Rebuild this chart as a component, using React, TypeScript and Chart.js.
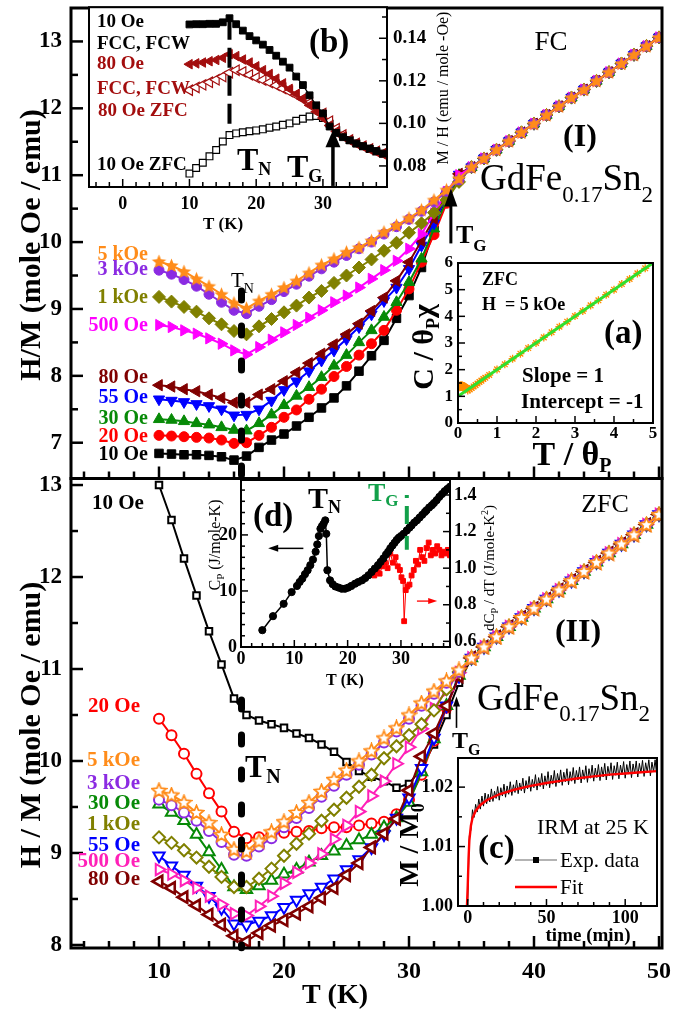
import React, { useEffect, useRef } from "react";
import { Chart, registerables } from "chart.js";

Chart.register(...registerables);

const W = 675;
const H = 1011;
const SERIF = "'Liberation Serif', 'Times New Roman', Times, serif";
const fb = (s: number) => `bold ${s}px ${SERIF}`;
const fn = (s: number) => `${s}px ${SERIF}`;

// ---------------- main panels (H/M vs T) ----------------
const TEMPS = [10, 11, 12, 13, 14, 15, 16, 17, 18, 19, 20, 21, 22, 23, 24, 25, 26, 27, 28, 29, 30, 31, 32, 33, 34, 35, 36, 37, 38, 39, 40, 41, 42, 43, 44, 45, 46, 47, 48, 49, 50];

// FC, T = 10..34
const FC_10 = [6.84, 6.83, 6.82, 6.82, 6.81, 6.79, 6.74, 6.80, 6.93, 7.04, 7.13, 7.25, 7.38, 7.52, 7.67, 7.85, 8.07, 8.30, 8.53, 8.86, 9.20, 9.62, 10.18, 10.66, 10.98];
const FC_20 = [7.11, 7.10, 7.09, 7.08, 7.07, 7.04, 6.99, 7.00, 7.11, 7.23, 7.38, 7.49, 7.65, 7.80, 7.99, 8.14, 8.31, 8.48, 8.68, 8.98, 9.30, 9.70, 10.11, 10.58, 10.99];
const FC_30 = [7.35, 7.34, 7.32, 7.29, 7.27, 7.23, 7.19, 7.18, 7.29, 7.42, 7.56, 7.70, 7.83, 7.98, 8.15, 8.31, 8.50, 8.68, 8.88, 9.10, 9.40, 9.75, 10.20, 10.62, 11.00];
const FC_55 = [7.65, 7.63, 7.61, 7.58, 7.55, 7.50, 7.41, 7.42, 7.50, 7.63, 7.79, 7.92, 8.07, 8.23, 8.38, 8.55, 8.73, 8.92, 9.12, 9.32, 9.60, 9.95, 10.28, 10.70, 11.01];
const FC_80 = [7.86, 7.84, 7.80, 7.77, 7.72, 7.67, 7.60, 7.60, 7.72, 7.80, 7.92, 8.05, 8.19, 8.33, 8.47, 8.62, 8.78, 8.97, 9.17, 9.42, 9.70, 10.02, 10.35, 10.72, 11.02];
const FC_500 = [8.76, 8.73, 8.68, 8.63, 8.56, 8.48, 8.38, 8.32, 8.43, 8.54, 8.65, 8.76, 8.87, 8.98, 9.10, 9.20, 9.32, 9.45, 9.58, 9.72, 9.90, 10.12, 10.43, 10.75, 11.00];
const FC_1K = [9.18, 9.11, 9.03, 8.96, 8.86, 8.77, 8.67, 8.62, 8.74, 8.85, 8.95, 9.05, 9.17, 9.27, 9.39, 9.50, 9.62, 9.74, 9.87, 9.99, 10.14, 10.28, 10.44, 10.63, 10.90];
const FC_3K = [9.58, 9.52, 9.44, 9.34, 9.22, 9.10, 8.98, 8.93, 9.04, 9.14, 9.26, 9.37, 9.49, 9.60, 9.70, 9.80, 9.90, 10.00, 10.12, 10.23, 10.34, 10.46, 10.60, 10.76, 10.93];
const FC_5K = [9.71, 9.65, 9.56, 9.45, 9.34, 9.22, 9.09, 9.01, 9.12, 9.22, 9.32, 9.42, 9.54, 9.66, 9.75, 9.85, 9.92, 10.02, 10.15, 10.25, 10.36, 10.48, 10.63, 10.78, 10.95];
// FC, T = 35..50 (all fields overlap)
const FC_HIGH = [11.12, 11.25, 11.38, 11.51, 11.64, 11.77, 11.90, 12.03, 12.16, 12.28, 12.41, 12.54, 12.67, 12.80, 12.93, 13.06];

// ZFC, T = 10..34
const Z_10 = [13.0, 12.62, 12.20, 11.80, 11.41, 11.05, 10.68, 10.50, 10.44, 10.40, 10.36, 10.30, 10.25, 10.18, 10.10, 9.99, 9.89, 9.83, 9.78, 9.71, 9.75, 9.92, 10.18, 10.50, 10.85];
const Z_20 = [10.46, 10.28, 10.08, 9.86, 9.65, 9.45, 9.23, 9.16, 9.17, 9.21, 9.22, 9.23, 9.24, 9.27, 9.28, 9.28, 9.30, 9.32, 9.34, 9.42, 9.58, 9.85, 10.22, 10.58, 10.92];
const Z_30 = [9.53, 9.44, 9.35, 9.20, 9.01, 8.82, 8.63, 8.60, 8.64, 8.70, 8.77, 8.82, 8.90, 8.97, 9.02, 9.08, 9.14, 9.20, 9.28, 9.38, 9.55, 9.88, 10.24, 10.60, 10.93];
const Z_55 = [8.97, 8.86, 8.76, 8.64, 8.53, 8.40, 8.23, 8.22, 8.26, 8.32, 8.41, 8.49, 8.56, 8.63, 8.72, 8.82, 8.93, 9.06, 9.20, 9.38, 9.60, 9.92, 10.25, 10.60, 10.92];
const Z_80 = [8.69, 8.62, 8.52, 8.43, 8.33, 8.22, 8.10, 8.04, 8.13, 8.21, 8.27, 8.34, 8.42, 8.51, 8.62, 8.76, 8.89, 9.06, 9.21, 9.37, 9.68, 10.05, 10.30, 10.60, 10.92];
const Z_500 = [8.82, 8.77, 8.70, 8.62, 8.53, 8.44, 8.34, 8.32, 8.42, 8.53, 8.67, 8.79, 8.89, 8.99, 9.15, 9.30, 9.45, 9.62, 9.78, 9.97, 10.15, 10.35, 10.57, 10.77, 10.96];
const Z_1K = [9.17, 9.11, 9.03, 8.95, 8.85, 8.74, 8.63, 8.63, 8.72, 8.83, 8.97, 9.10, 9.21, 9.35, 9.47, 9.60, 9.72, 9.85, 10.03, 10.16, 10.28, 10.40, 10.55, 10.78, 10.97];
const Z_3K = [9.58, 9.52, 9.44, 9.35, 9.24, 9.12, 8.98, 8.97, 9.07, 9.16, 9.28, 9.38, 9.49, 9.61, 9.73, 9.85, 9.96, 10.07, 10.20, 10.32, 10.46, 10.60, 10.73, 10.85, 10.97];
const Z_5K = [9.68, 9.63, 9.55, 9.44, 9.33, 9.20, 9.04, 9.02, 9.13, 9.23, 9.34, 9.44, 9.55, 9.67, 9.80, 9.90, 10.00, 10.11, 10.25, 10.36, 10.50, 10.63, 10.76, 10.87, 10.99];
// ZFC, T = 35..50
const Z_HIGH = [11.12, 11.24, 11.35, 11.46, 11.56, 11.66, 11.76, 11.86, 11.96, 12.06, 12.16, 12.26, 12.36, 12.46, 12.57, 12.68];

const X_MAJ = [10, 20, 30, 40, 50];
const X_MIN = [4, 6, 8, 12, 14, 16, 18, 22, 24, 26, 28, 32, 34, 36, 38, 42, 44, 46, 48];
const X_LAB = ["10", "20", "30", "40", "50"];
const TOP_Y_MAJ = [7, 8, 9, 10, 11, 12, 13];
const TOP_Y_MIN = [7.5, 8.5, 9.5, 10.5, 11.5, 12.5];
const TOP_Y_LAB = ["7", "8", "9", "10", "11", "12", "13"];
const BOT_Y_MAJ = [8, 9, 10, 11, 12, 13];
const BOT_Y_MIN = [8.5, 9.5, 10.5, 11.5, 12.5];
const BOT_Y_LAB = ["8", "9", "10", "11", "12", "13"];

const FC_NAMES = ["5 kOe", "3 kOe", "1 kOe", "500 Oe", "80 Oe", "55 Oe", "30 Oe", "20 Oe", "10 Oe"];
const ZFC_NAMES = ["20 Oe", "5 kOe", "3 kOe", "30 Oe", "1 kOe", "55 Oe", "500 Oe", "80 Oe"];

// ---------------- inset (b): M/H vs T ----------------
const TB = [10, 11, 12, 13, 14, 15, 16, 17, 18, 19, 20, 21, 22, 23, 24, 25, 26, 27, 28, 29, 30, 31, 32, 33, 34, 35, 36, 37, 38, 39];
const B_10FC = [0.1465, 0.1466, 0.1466, 0.1468, 0.1468, 0.1475, 0.1494, 0.1466, 0.1436, 0.1410, 0.1390, 0.1370, 0.1345, 0.1318, 0.1290, 0.1262, 0.1220, 0.1180, 0.1132, 0.1085, 0.1047, 0.0985, 0.0955, 0.0935, 0.0920, 0.0905, 0.0893, 0.0882, 0.0870, 0.0858];
const B_80FC = [0.1278, 0.1282, 0.1286, 0.1292, 0.1298, 0.1308, 0.1325, 0.1316, 0.1300, 0.1286, 0.1268, 0.1250, 0.1232, 0.1210, 0.1188, 0.1162, 0.1138, 0.1115, 0.1085, 0.1055, 0.1025, 0.0990, 0.0962, 0.0938, 0.0920, 0.0905, 0.0892, 0.0880, 0.0868, 0.0857];
const B_80ZFC = [0.1156, 0.1169, 0.1181, 0.1193, 0.1205, 0.1220, 0.1238, 0.1250, 0.1242, 0.1228, 0.1215, 0.1204, 0.1192, 0.1179, 0.1164, 0.1150, 0.1133, 0.1115, 0.1096, 0.1075, 0.1047, 0.1010, 0.0975, 0.0945, 0.0922, 0.0906, 0.0892, 0.0880, 0.0868, 0.0857];
const B_10ZFC = [0.0764, 0.0790, 0.0815, 0.0845, 0.0875, 0.0915, 0.0945, 0.0953, 0.0958, 0.0963, 0.0967, 0.0972, 0.0980, 0.0985, 0.0993, 0.1000, 0.1012, 0.1022, 0.1032, 0.1035, 0.1025, 0.0998, 0.0968, 0.0942, 0.0922, 0.0906, 0.0892, 0.0880, 0.0868, 0.0857];

// ---------------- inset (a): C/(theta chi) vs T/theta ----------------
const A_FIT_X = [0, 5];
const A_FIT_Y = [1, 6];
const A_STAR_X = [0.25, 0.3, 0.35, 0.4, 0.45, 0.5, 0.55, 0.6, 0.65, 0.7, 0.8, 1.0, 1.2, 1.4, 1.6, 1.8, 2.0, 2.2, 2.4, 2.6, 2.8, 3.0, 3.2, 3.4, 3.6, 3.8, 4.0, 4.2, 4.4, 4.6, 4.8, 5.0];
const A_STAR_Y = [1.22, 1.26, 1.31, 1.37, 1.42, 1.48, 1.54, 1.59, 1.65, 1.70, 1.80, 2.01, 2.20, 2.41, 2.60, 2.81, 3.00, 3.21, 3.40, 3.61, 3.80, 4.01, 4.20, 4.41, 4.60, 4.81, 5.00, 5.21, 5.40, 5.61, 5.80, 6.0];
const A_CIRC_X = [0.04, 0.08, 0.12, 0.16, 0.2];
const A_CIRC_Y = [1.36, 1.40, 1.38, 1.34, 1.30];

// ---------------- inset (d): Cp and dCp/dT ----------------
const D_T = [4, 6, 8, 9.5, 10.5, 11, 11.5, 12, 12.5, 13, 13.5, 14, 14.3, 14.6, 14.9, 15.2, 15.5, 15.8, 16.0, 16.2, 16.7, 17.2, 17.7, 18.3, 18.9, 19.5, 20.1, 20.7, 21.4, 22, 22.7, 23.3, 23.9, 24.5, 25.1, 25.7, 26.2, 26.7, 27.2, 27.6, 28.0, 28.4, 28.8, 29.2, 29.6, 30, 30.5, 31.1, 31.6, 32, 32.5, 33, 33.5, 34, 34.5, 34.8, 35.3, 35.8, 36.2, 36.7, 37.2, 37.7, 38.2, 38.7, 39.2];
const D_CP = [3.0, 5.5, 7.7, 9.8, 10.9, 11.6, 12.2, 13.0, 13.7, 14.6, 15.6, 17.0, 18.3, 19.8, 21.1, 21.6, 22.0, 22.6, 20.2, 13.7, 11.9, 11.2, 10.8, 10.6, 10.4, 10.4, 10.6, 10.9, 11.3, 11.6, 11.9, 12.3, 12.8, 13.4, 14.0, 14.6, 15.2, 15.8, 16.5, 17.0, 17.6, 18.1, 18.6, 19.1, 19.5, 19.8, 20.2, 20.8, 21.3, 21.7, 22.2, 22.6, 23.1, 23.6, 24.1, 24.4, 24.9, 25.3, 25.7, 26.2, 26.8, 27.3, 27.8, 28.2, 28.6];
const D_RT = [25.0, 25.5, 26.0, 26.5, 27.0, 27.5, 28.0, 28.5, 29.0, 29.4, 29.8, 30.1, 30.4, 30.6, 30.9, 31.2, 31.6, 32.0, 32.4, 32.8, 33.2, 33.6, 34.0, 34.4, 34.8, 35.2, 35.6, 36.0, 36.4, 36.8, 37.2, 37.6, 38.0, 38.4, 38.8, 39.2];
const D_R = [0.96, 0.99, 0.97, 1.01, 1.03, 1.00, 1.08, 1.03, 1.06, 1.01, 0.99, 0.95, 0.93, 0.71, 0.88, 0.90, 0.91, 0.96, 0.99, 1.04, 1.02, 1.10, 1.06, 1.04, 1.11, 1.14, 1.07, 1.10, 1.08, 1.12, 1.10, 1.07, 1.09, 1.08, 1.10, 1.07];

// ---------------- inset (c): IRM relaxation ----------------
const C_TIME = [0, 1, 2, 3, 4, 5, 6, 7, 8, 9, 10, 11, 12, 13, 14, 15, 16, 17, 18, 19, 20, 21, 22, 23, 24, 25, 26, 27, 28, 29, 30, 31, 32, 33, 34, 35, 36, 37, 38, 39, 40, 41, 42, 43, 44, 45, 46, 47, 48, 49, 50, 51, 52, 53, 54, 55, 56, 57, 58, 59, 60, 61, 62, 63, 64, 65, 66, 67, 68, 69, 70, 71, 72, 73, 74, 75, 76, 77, 78, 79, 80, 81, 82, 83, 84, 85, 86, 87, 88, 89, 90, 91, 92, 93, 94, 95, 96, 97, 98, 99, 100, 101, 102, 103, 104, 105, 106, 107, 108, 109, 110, 111, 112, 113, 114, 115, 116, 117, 118, 119, 120];
const C_EXP = [1.0008, 1.0118, 1.0128, 1.0162, 1.0149, 1.0171, 1.0158, 1.0180, 1.0163, 1.0185, 1.0168, 1.0190, 1.0172, 1.0188, 1.0175, 1.0197, 1.0176, 1.0193, 1.0181, 1.0201, 1.0178, 1.0199, 1.0185, 1.0205, 1.0183, 1.0202, 1.0188, 1.0209, 1.0186, 1.0204, 1.0191, 1.0212, 1.0189, 1.0207, 1.0194, 1.0215, 1.0190, 1.0211, 1.0197, 1.0218, 1.0193, 1.0213, 1.0199, 1.0221, 1.0195, 1.0216, 1.0201, 1.0223, 1.0197, 1.0219, 1.0203, 1.0226, 1.0199, 1.0220, 1.0205, 1.0228, 1.0201, 1.0223, 1.0207, 1.0229, 1.0203, 1.0225, 1.0209, 1.0231, 1.0204, 1.0226, 1.0210, 1.0233, 1.0206, 1.0228, 1.0212, 1.0234, 1.0207, 1.0229, 1.0213, 1.0236, 1.0208, 1.0231, 1.0215, 1.0237, 1.0210, 1.0232, 1.0216, 1.0238, 1.0211, 1.0234, 1.0217, 1.0240, 1.0212, 1.0235, 1.0219, 1.0241, 1.0213, 1.0236, 1.0220, 1.0242, 1.0214, 1.0237, 1.0221, 1.0243, 1.0215, 1.0238, 1.0222, 1.0244, 1.0216, 1.0239, 1.0223, 1.0244, 1.0217, 1.0240, 1.0224, 1.0245, 1.0218, 1.0241, 1.0225, 1.0246, 1.0219, 1.0242, 1.0226, 1.0246, 1.0220];
const C_FIT_T = [-0.5, 0, 0.5, 1, 2, 3, 5, 8, 12, 16, 20, 30, 40, 50, 60, 70, 80, 90, 100, 110, 120];
const C_FIT = [1.0, 1.0035, 1.008, 1.011, 1.0135, 1.0148, 1.016, 1.017, 1.0178, 1.0183, 1.0188, 1.0196, 1.0202, 1.0207, 1.0211, 1.0215, 1.0218, 1.0221, 1.0223, 1.0225, 1.0227];

// ---------------- colours ----------------
const COL = {
  k: "#000000", r: "#ff0000", g: "#078a07", b: "#0000ff", dr: "#800000",
  m: "#ff00ff", mz: "#ff20b8", ol: "#808000", pu: "#8b2be2", or: "#ff8c1a",
};
const DR2 = "#a30e0e";

// ---------------- helpers ----------------
const pts = (xs: number[], ys: number[]) =>
  ys.slice(0, xs.length).map((y, i) => ({ x: xs[i], y }));

function text(ctx: any, t: string, x: number, y: number, font: string, color = "#000", align = "left", base = "alphabetic") {
  ctx.save();
  ctx.font = font; ctx.fillStyle = color; ctx.textAlign = align; ctx.textBaseline = base;
  ctx.fillText(t, x, y);
  ctx.restore();
}

type Seg = { t: string; f: string; dy?: number };
function rich(ctx: any, segs: Seg[], x: number, y: number, align = "left", color = "#000", rot = 0) {
  ctx.save();
  ctx.fillStyle = color; ctx.textAlign = "left"; ctx.textBaseline = "alphabetic";
  const ws = segs.map((s) => { ctx.font = s.f; return ctx.measureText(s.t).width; });
  const total = ws.reduce((a, b) => a + b, 0);
  ctx.translate(x, y);
  if (rot) ctx.rotate(rot);
  let cx = align === "center" ? -total / 2 : align === "right" ? -total : 0;
  segs.forEach((s, i) => { ctx.font = s.f; ctx.fillText(s.t, cx, s.dy || 0); cx += ws[i]; });
  ctx.restore();
}

function arrow(ctx: any, x1: number, y1: number, x2: number, y2: number, lw: number, hl: number, hw: number, color = "#000") {
  const ang = Math.atan2(y2 - y1, x2 - x1);
  ctx.save();
  ctx.strokeStyle = color; ctx.fillStyle = color; ctx.lineWidth = lw;
  ctx.beginPath();
  ctx.moveTo(x1, y1);
  ctx.lineTo(x2 - Math.cos(ang) * hl * 0.8, y2 - Math.sin(ang) * hl * 0.8);
  ctx.stroke();
  ctx.translate(x2, y2); ctx.rotate(ang);
  ctx.beginPath(); ctx.moveTo(0, 0); ctx.lineTo(-hl, -hw / 2); ctx.lineTo(-hl, hw / 2); ctx.closePath(); ctx.fill();
  ctx.restore();
}

function vline(ctx: any, x: number, y1: number, y2: number, lw: number, dash: number[], color = "#000", cap = "round") {
  ctx.save();
  ctx.strokeStyle = color; ctx.lineWidth = lw; ctx.lineCap = cap; ctx.setLineDash(dash);
  ctx.beginPath(); ctx.moveTo(x, y1); ctx.lineTo(x, y2); ctx.stroke();
  ctx.restore();
}

function starImg(color: string, size: number, open: boolean) {
  const c = document.createElement("canvas");
  c.width = size; c.height = size;
  const g = c.getContext("2d")!;
  const cx = size / 2, cy = size / 2 + 0.5, R = size / 2 - 1, r = R * 0.45;
  g.beginPath();
  for (let i = 0; i < 10; i++) {
    const a = -Math.PI / 2 + (i * Math.PI) / 5;
    const rr = i % 2 === 0 ? R : r;
    g.lineTo(cx + rr * Math.cos(a), cy + rr * Math.sin(a));
  }
  g.closePath();
  if (open) {
    g.fillStyle = "#fff"; g.fill();
    g.lineWidth = 1.8; g.strokeStyle = color; g.stroke();
  } else {
    g.fillStyle = color; g.fill();
  }
  return c;
}

type AxisSpec = {
  id: string; side: string; majors: number[]; minors?: number[];
  major: number; minor: number; lw: number; labels?: string[]; font?: string; gap?: number;
};

function drawAxis(ctx: any, ch: any, s: AxisSpec) {
  const sc = ch.scales[s.id];
  const a = ch.chartArea;
  ctx.save();
  ctx.strokeStyle = "#000"; ctx.lineWidth = s.lw; ctx.lineCap = "butt";
  const tick = (v: number, len: number) => {
    const p = sc.getPixelForValue(v);
    ctx.beginPath();
    if (s.side === "bottom") { ctx.moveTo(p, a.bottom); ctx.lineTo(p, a.bottom - len); }
    else if (s.side === "top") { ctx.moveTo(p, a.top); ctx.lineTo(p, a.top + len); }
    else if (s.side === "left") { ctx.moveTo(a.left, p); ctx.lineTo(a.left + len, p); }
    else { ctx.moveTo(a.right, p); ctx.lineTo(a.right - len, p); }
    ctx.stroke();
  };
  (s.minors || []).forEach((v) => tick(v, s.minor));
  s.majors.forEach((v) => tick(v, s.major));
  if (s.labels) {
    ctx.fillStyle = "#000"; ctx.font = s.font;
    s.majors.forEach((v, i) => {
      const p = sc.getPixelForValue(v);
      const t = s.labels![i];
      if (s.side === "left") { ctx.textAlign = "right"; ctx.textBaseline = "middle"; ctx.fillText(t, a.left - s.gap!, p); }
      else if (s.side === "right") { ctx.textAlign = "left"; ctx.textBaseline = "middle"; ctx.fillText(t, a.right + s.gap!, p); }
      else { ctx.textAlign = "center"; ctx.textBaseline = "alphabetic"; ctx.fillText(t, p, a.bottom + s.gap!); }
    });
  }
  ctx.restore();
}

function build(o: any) {
  const [l, t, r, b] = o.area;
  const scales: any = {
    x: { type: "linear", min: o.x[0], max: o.x[1], display: false },
    y: { type: "linear", min: o.y[0], max: o.y[1], display: false },
  };
  if (o.y2) scales.y2 = { type: "linear", position: "right", min: o.y2[0], max: o.y2[1], display: false };
  return {
    type: "line",
    data: { datasets: o.datasets },
    options: {
      animation: false,
      responsive: false,
      devicePixelRatio: 1,
      events: [],
      layout: { padding: { left: l, top: t, right: W - r, bottom: H - b } },
      plugins: { legend: { display: false }, tooltip: { enabled: false } },
      elements: { line: { tension: 0, fill: false } },
      scales,
    },
    plugins: [
      {
        id: "deco",
        beforeDatasetsDraw(ch: any) {
          if (!o.bg) return;
          const a = ch.chartArea;
          const ctx = ch.ctx;
          ctx.save(); ctx.fillStyle = "#fff";
          ctx.fillRect(a.left, a.top, a.right - a.left, a.bottom - a.top);
          ctx.restore();
        },
        afterDraw(ch: any) {
          const ctx = ch.ctx;
          const a = ch.chartArea;
          ctx.save();
          ctx.strokeStyle = "#000"; ctx.lineWidth = o.frame;
          ctx.strokeRect(a.left, a.top, a.right - a.left, a.bottom - a.top);
          ctx.restore();
          o.axes.forEach((s: AxisSpec) => drawAxis(ctx, ch, s));
          if (o.extra) o.extra(ctx, ch);
        },
      },
    ],
  };
}

const GD = (big: number, small: number, dy: number): Seg[] => [
  { t: "GdFe", f: fn(big) }, { t: "0.17", f: fn(small), dy },
  { t: "Sn", f: fn(big) }, { t: "2", f: fn(small), dy },
];

// ---------------- chart builders ----------------
function topMain() {
  const star = starImg(COL.or, 17, false);
  const mk = (v: number[], color: string, style: any, r: number, rot = 0) => ({
    data: pts(TEMPS, [...v, ...FC_HIGH]),
    borderColor: color, backgroundColor: color, borderWidth: 2,
    pointStyle: style, pointRadius: r, pointRotation: rot,
    pointBackgroundColor: color, pointBorderColor: color, pointBorderWidth: 1,
  });
  const legY = [255, 270, 298, 326, 378, 398, 419, 437, 455];
  const legC = [COL.or, COL.pu, COL.ol, COL.m, COL.dr, COL.b, COL.g, COL.r, COL.k];
  return build({
    area: [71, 3, 662, 478.5], x: [2.96, 50.24], y: [6.465, 13.5], frame: 3,
    datasets: [
      mk(FC_5K, COL.or, star, 7),
      mk(FC_3K, COL.pu, "circle", 5),
      mk(FC_1K, COL.ol, "rectRot", 6.5),
      mk(FC_500, COL.m, "triangle", 6.5, 90),
      mk(FC_80, COL.dr, "triangle", 6.5, 270),
      mk(FC_55, COL.b, "triangle", 6.5, 180),
      mk(FC_30, COL.g, "triangle", 6.5),
      mk(FC_20, COL.r, "circle", 5),
      mk(FC_10, COL.k, "rect", 6),
    ],
    axes: [
      { id: "x", side: "bottom", majors: X_MAJ, minors: X_MIN, major: 12, minor: 7, lw: 2.5 },
      { id: "y", side: "left", majors: TOP_Y_MAJ, minors: TOP_Y_MIN, major: 12, minor: 7, lw: 2.5, labels: TOP_Y_LAB, font: fb(23), gap: 9 },
    ],
    extra: (ctx: any, ch: any) => {
      const X = ch.scales.x, Y = ch.scales.y;
      vline(ctx, X.getPixelForValue(16.6), Y.getPixelForValue(9.268), Y.getPixelForValue(6.5), 7, [9, 26]);
      rich(ctx, [{ t: "T", f: fn(21) }, { t: "N", f: fn(14), dy: 6 }], 231, 287);
      text(ctx, "FC", 551, 50, fn(27), "#000", "center");
      text(ctx, "(I)", 580, 146, fb(32), "#000", "center");
      rich(ctx, GD(37, 23, 12), 480, 190);
      arrow(ctx, X.getPixelForValue(33.35), Y.getPixelForValue(9.98), X.getPixelForValue(33.35), Y.getPixelForValue(10.8), 3, 18, 13);
      rich(ctx, [{ t: "T", f: fb(26) }, { t: "G", f: fb(17), dy: 8 }], 456, 243);
      FC_NAMES.forEach((n, i) => text(ctx, n, 148, legY[i], fb(20), legC[i], "right", "middle"));
      rich(ctx, [{ t: "H/M (mole Oe / emu)", f: fb(30) }], 40, 245, "center", "#000", -Math.PI / 2);
    },
  });
}

function bottomMain() {
  const star = starImg(COL.or, 17, true);
  const mk = (v: number[], color: string, style: any, r: number, rot = 0, bw = 2) => ({
    data: pts(TEMPS, [...v, ...Z_HIGH]),
    borderColor: color, backgroundColor: color, borderWidth: 2,
    pointStyle: style, pointRadius: r, pointRotation: rot,
    pointBackgroundColor: "#ffffff", pointBorderColor: color, pointBorderWidth: bw,
  });
  const legY = [707, 761, 784, 804, 825, 846, 862, 880];
  const legC = [COL.r, COL.or, COL.pu, COL.g, COL.ol, COL.b, COL.mz, COL.dr];
  return build({
    area: [71, 478.5, 662, 948], x: [2.96, 50.24], y: [7.967, 13.071], frame: 3,
    datasets: [
      mk(Z_5K, COL.or, star, 7),
      mk(Z_3K, COL.pu, "circle", 5),
      mk(Z_1K, COL.ol, "rectRot", 6),
      mk(Z_500, COL.mz, "triangle", 6.5, 90),
      mk(Z_80, COL.dr, "triangle", 6.5, 270, 2.6),
      mk(Z_55, COL.b, "triangle", 6.5, 180),
      mk(Z_30, COL.g, "triangle", 6.5),
      mk(Z_20, COL.r, "circle", 5),
      mk(Z_10, COL.k, "rect", 4.6),
    ],
    axes: [
      { id: "x", side: "bottom", majors: X_MAJ, minors: X_MIN, major: 12, minor: 7, lw: 2.5, labels: X_LAB, font: fb(24), gap: 30 },
      { id: "y", side: "left", majors: BOT_Y_MAJ, minors: BOT_Y_MIN, major: 12, minor: 7, lw: 2.5, labels: BOT_Y_LAB, font: fb(23), gap: 9 },
    ],
    extra: (ctx: any, ch: any) => {
      const X = ch.scales.x, Y = ch.scales.y;
      vline(ctx, X.getPixelForValue(16.6), Y.getPixelForValue(10.663), Y.getPixelForValue(7.97), 7, [9, 26]);
      text(ctx, "ZFC", 605, 512, fn(26), "#000", "center");
      text(ctx, "(II)", 578, 641, fb(32), "#000", "center");
      rich(ctx, GD(37, 23, 11), 477, 710);
      arrow(ctx, X.getPixelForValue(33.8), Y.getPixelForValue(10.36), X.getPixelForValue(33.8), Y.getPixelForValue(10.7), 1.6, 10, 7);
      rich(ctx, [{ t: "T", f: fb(24) }, { t: "G", f: fb(16), dy: 7 }], 452, 748);
      rich(ctx, [{ t: "T", f: fb(32) }, { t: "N", f: fb(20), dy: 6 }], 245, 777);
      text(ctx, "10 Oe", 92, 509, fb(21), COL.k, "left");
      ZFC_NAMES.forEach((n, i) => text(ctx, n, 140, legY[i], fb(21), legC[i], "right", "middle"));
      rich(ctx, [{ t: "H / M (mole Oe / emu)", f: fb(30) }], 40, 725, "center", "#000", -Math.PI / 2);
      text(ctx, "T (K)", 335, 1003, fb(28), "#000", "center");
    },
  });
}

function insetB() {
  return build({
    area: [89, 7, 387, 187], x: [-5.05, 39.6], y: [0.0701, 0.1546], frame: 2, bg: true,
    datasets: [
      { data: pts(TB, B_10FC), borderColor: "#000", borderWidth: 1.3, pointStyle: "rect", pointRadius: 4.8, pointBackgroundColor: "#000", pointBorderColor: "#000", pointBorderWidth: 1 },
      { data: pts(TB, B_80FC), borderColor: DR2, borderWidth: 1.3, pointStyle: "triangle", pointRotation: 270, pointRadius: 5.5, pointBackgroundColor: DR2, pointBorderColor: DR2, pointBorderWidth: 1 },
      { data: pts(TB, B_80ZFC), borderColor: DR2, borderWidth: 1.2, pointStyle: "triangle", pointRotation: 270, pointRadius: 6, pointBackgroundColor: "#fff", pointBorderColor: DR2, pointBorderWidth: 1.2 },
      { data: pts(TB, B_10ZFC), borderColor: "#000", borderWidth: 1.2, pointStyle: "rect", pointRadius: 4.8, pointBackgroundColor: "#fff", pointBorderColor: "#000", pointBorderWidth: 1.2 },
    ],
    axes: [
      { id: "x", side: "bottom", majors: [0, 10, 20, 30], minors: [-4, -2, 2, 4, 6, 8, 12, 14, 16, 18, 22, 24, 26, 28, 32, 34, 36, 38], major: 8, minor: 5, lw: 1.5, labels: ["0", "10", "20", "30"], font: fb(18), gap: 22 },
      { id: "y", side: "right", majors: [0.08, 0.1, 0.12, 0.14], minors: [0.09, 0.11, 0.13, 0.15], major: 8, minor: 5, lw: 1.5, labels: ["0.08", "0.10", "0.12", "0.14"], font: fb(19), gap: 6 },
    ],
    extra: (ctx: any, ch: any) => {
      const X = ch.scales.x, Y = ch.scales.y;
      vline(ctx, X.getPixelForValue(16), Y.getPixelForValue(0.1487), Y.getPixelForValue(0.0975), 4, [20, 8], "#000", "butt");
      text(ctx, "10 Oe", 97, 27, fb(19), "#000");
      text(ctx, "FCC, FCW", 97, 49, fb(19), "#000");
      text(ctx, "80 Oe", 97, 69, fb(19), DR2);
      text(ctx, "FCC, FCW", 97, 94, fb(19), DR2);
      text(ctx, "80 Oe ZFC", 98, 116, fb(19), DR2);
      text(ctx, "10 Oe ZFC", 97, 170, fb(19), "#000");
      text(ctx, "(b)", 309, 52, fb(33), "#000");
      rich(ctx, [{ t: "T", f: fb(32) }, { t: "N", f: fb(18), dy: 5 }], 237, 170);
      rich(ctx, [{ t: "T", f: fb(32) }, { t: "G", f: fb(18), dy: 5 }], 287, 177);
      arrow(ctx, X.getPixelForValue(31.5), Y.getPixelForValue(0.0706), X.getPixelForValue(31.5), Y.getPixelForValue(0.0968), 3.5, 17, 15);
      text(ctx, "T (K)", 223, 229, fb(17), "#000", "center");
      rich(ctx, [{ t: "M / H (emu / mole -Oe)", f: fn(16) }], 448, 88, "center", "#000", -Math.PI / 2);
    },
  });
}

function insetA() {
  return build({
    area: [458, 263, 653, 423], x: [0, 5], y: [0, 6], frame: 2, bg: true,
    datasets: [
      { data: pts(A_FIT_X, A_FIT_Y), borderColor: "#2fe02f", borderWidth: 3, pointRadius: 0 },
      { data: pts(A_STAR_X, A_STAR_Y), showLine: false, pointStyle: "star", pointRadius: 4, pointBorderColor: "#ff8c00", pointBackgroundColor: "#ff8c00", pointBorderWidth: 1.3 },
      { data: pts(A_CIRC_X, A_CIRC_Y), showLine: false, pointStyle: "circle", pointRadius: 4, pointBorderColor: "#ff8c00", pointBackgroundColor: "#ff8c00", pointBorderWidth: 1 },
    ],
    axes: [
      { id: "x", side: "bottom", majors: [0, 1, 2, 3, 4, 5], minors: [0.5, 1.5, 2.5, 3.5, 4.5], major: 7, minor: 4, lw: 1.5, labels: ["0", "1", "2", "3", "4", "5"], font: fb(17), gap: 15 },
      { id: "y", side: "left", majors: [0, 1, 2, 3, 4, 5, 6], minors: [0.5, 1.5, 2.5, 3.5, 4.5, 5.5], major: 7, minor: 4, lw: 1.5, labels: ["0", "1", "2", "3", "4", "5", "6"], font: fb(17), gap: 5 },
    ],
    extra: (ctx: any) => {
      text(ctx, "ZFC", 482, 285, fb(18));
      text(ctx, "H  = 5 kOe", 482, 310, fb(18));
      text(ctx, "(a)", 604, 343, fb(33));
      text(ctx, "Slope = 1", 522, 382, fb(21));
      text(ctx, "Intercept = -1", 521, 408, fb(21));
      rich(ctx, [{ t: "C / θ", f: fb(30) }, { t: "P", f: fb(18), dy: 6 }, { t: "χ", f: fb(30) }], 433, 347, "center", "#000", -Math.PI / 2);
      rich(ctx, [{ t: "T / θ", f: fb(34) }, { t: "P", f: fb(20), dy: 7 }], 572, 465, "center");
    },
  });
}

function insetD() {
  return build({
    area: [241, 480, 450, 647], x: [0, 39.2], y: [0, 29.8], y2: [0.569, 1.482], frame: 2, bg: true,
    datasets: [
      { data: pts(D_T, D_CP), yAxisID: "y", borderColor: "#000", borderWidth: 1.5, pointStyle: "circle", pointRadius: 3.6, pointBackgroundColor: "#000", pointBorderColor: "#000", pointBorderWidth: 1 },
      { data: pts(D_RT, D_R), yAxisID: "y2", borderColor: "#ff0000", borderWidth: 1, pointStyle: "rect", pointRadius: 3.4, pointBackgroundColor: "#ff0000", pointBorderColor: "#ff0000", pointBorderWidth: 1 },
    ],
    axes: [
      { id: "x", side: "bottom", majors: [0, 10, 20, 30], minors: [2, 4, 6, 8, 12, 14, 16, 18, 22, 24, 26, 28, 32, 34, 36, 38], major: 7, minor: 4, lw: 1.5, labels: ["0", "10", "20", "30"], font: fb(18), gap: 17 },
      { id: "y", side: "left", majors: [0, 10, 20], minors: [2, 4, 6, 8, 12, 14, 16, 18, 22, 24, 26, 28], major: 7, minor: 4, lw: 1.5, labels: ["0", "10", "20"], font: fb(18), gap: 4 },
      { id: "y2", side: "right", majors: [0.6, 0.8, 1.0, 1.2, 1.4], minors: [0.7, 0.9, 1.1, 1.3], major: 7, minor: 4, lw: 1.5, labels: ["0.6", "0.8", "1.0", "1.2", "1.4"], font: fb(18), gap: 4 },
    ],
    extra: (ctx: any, ch: any) => {
      const X = ch.scales.x, Y = ch.scales.y, Y2 = ch.scales.y2;
      text(ctx, "(d)", 253, 526, fb(33));
      rich(ctx, [{ t: "T", f: fb(30) }, { t: "N", f: fb(18), dy: 5 }], 308, 508);
      rich(ctx, [{ t: "T", f: fb(26) }, { t: "G", f: fb(17), dy: 5 }], 368, 501, "left", "#12a04a");
      vline(ctx, X.getPixelForValue(31.1), Y2.getPixelForValue(1.40), Y2.getPixelForValue(1.10), 4, [3, 8, 18, 12, 16, 4], "#12a04a", "butt");
      arrow(ctx, X.getPixelForValue(11.7), Y.getPixelForValue(17.6), X.getPixelForValue(5.1), Y.getPixelForValue(17.6), 1.5, 10, 7);
      arrow(ctx, X.getPixelForValue(33.0), Y2.getPixelForValue(0.82), X.getPixelForValue(36.8), Y2.getPixelForValue(0.82), 1.3, 9, 6, "#ff0000");
      text(ctx, "T (K)", 345, 685, fb(16), "#000", "center");
      rich(ctx, [{ t: "C", f: fn(16) }, { t: "P", f: fn(11), dy: 4 }, { t: " (J/mole-K)", f: fn(16) }], 220, 545, "center", "#000", -Math.PI / 2);
      rich(ctx, [{ t: "dC", f: fn(15) }, { t: "P", f: fn(10), dy: 4 }, { t: " / dT (J/mole-K", f: fn(15) }, { t: "2", f: fn(10), dy: -6 }, { t: ")", f: fn(15) }], 494, 568, "center", "#000", -Math.PI / 2);
    },
  });
}

function insetC() {
  return build({
    area: [458, 758, 657, 906], x: [-6.2, 120.2], y: [1.0, 1.0249], frame: 2, bg: true,
    datasets: [
      { data: pts(C_FIT_T, C_FIT), borderColor: "#ff0000", borderWidth: 2.4, pointRadius: 0 },
      { data: pts(C_TIME, C_EXP), borderColor: "#000", borderWidth: 1, pointRadius: 0 },
    ],
    axes: [
      { id: "x", side: "bottom", majors: [0, 50, 100], minors: [10, 20, 30, 40, 60, 70, 80, 90, 110], major: 7, minor: 4, lw: 1.5, labels: ["0", "50", "100"], font: fb(18), gap: 17 },
      { id: "y", side: "left", majors: [1.0, 1.01, 1.02], minors: [1.005, 1.015], major: 7, minor: 4, lw: 1.5, labels: ["1.00", "1.01", "1.02"], font: fb(18), gap: 5 },
    ],
    extra: (ctx: any) => {
      text(ctx, "IRM at 25 K", 537, 834, fn(22));
      text(ctx, "(c)", 478, 858, fb(33));
      ctx.save();
      ctx.strokeStyle = "#9a9a9a"; ctx.lineWidth = 1.5;
      ctx.beginPath(); ctx.moveTo(515, 860); ctx.lineTo(557, 860); ctx.stroke();
      ctx.fillStyle = "#000"; ctx.fillRect(533, 857, 6, 6);
      ctx.strokeStyle = "#ff0000"; ctx.lineWidth = 2.5;
      ctx.beginPath(); ctx.moveTo(515, 887); ctx.lineTo(557, 887); ctx.stroke();
      ctx.restore();
      text(ctx, "Exp. data", 560, 867, fn(21));
      text(ctx, "Fit", 560, 894, fn(21));
      text(ctx, "time (min)", 588, 941, fb(19), "#000", "center");
      rich(ctx, [{ t: "M / M", f: fb(28) }, { t: "0", f: fb(18), dy: 6 }], 418, 845, "center", "#000", -Math.PI / 2);
    },
  });
}

function Layer({ make }: { make: () => any }) {
  const ref = useRef<HTMLCanvasElement>(null);
  useEffect(() => {
    const chart = new Chart(ref.current as HTMLCanvasElement, make());
    return () => chart.destroy();
  }, []);
  return (
    <canvas
      ref={ref}
      width={W}
      height={H}
      style={{ position: "absolute", left: 0, top: 0, width: W, height: H }}
    />
  );
}

export default function App() {
  return (
    <div style={{ position: "absolute", left: 0, top: 0, width: W, height: H, background: "#fff", overflow: "hidden" }}>
      <Layer make={topMain} />
      <Layer make={bottomMain} />
      <Layer make={insetB} />
      <Layer make={insetA} />
      <Layer make={insetD} />
      <Layer make={insetC} />
    </div>
  );
}
